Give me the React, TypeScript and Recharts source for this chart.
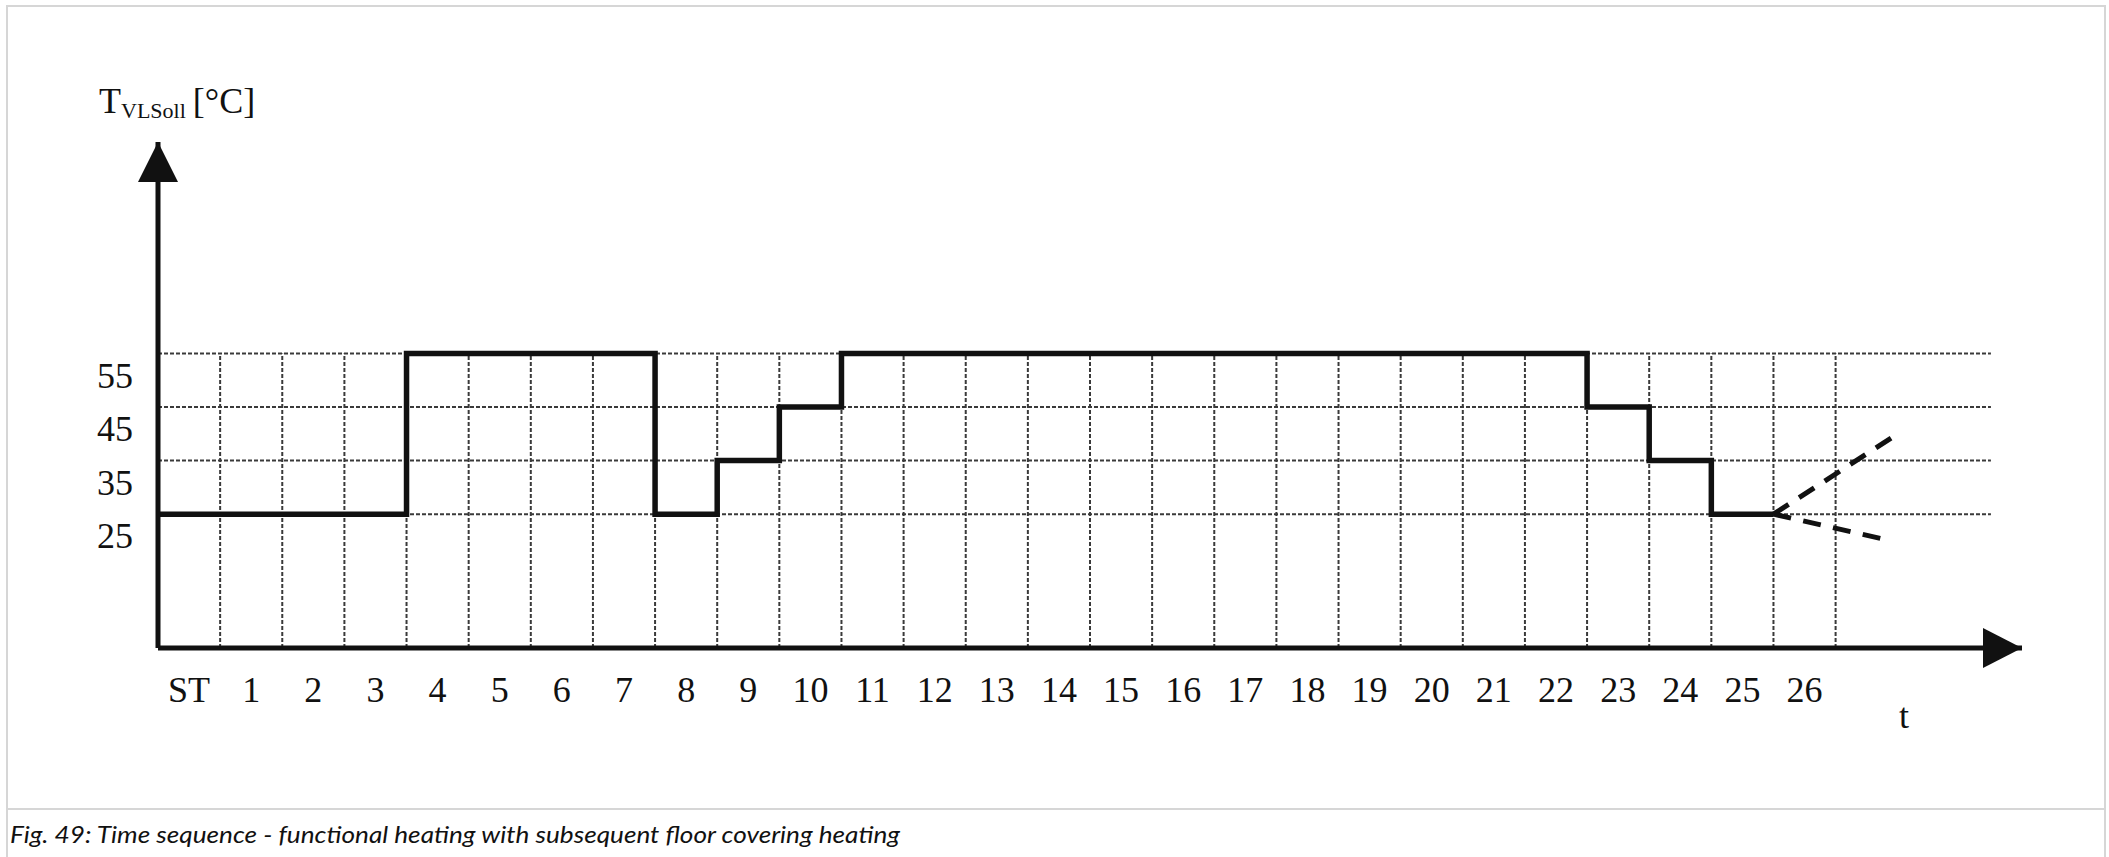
import {
  LineChart,
  Line,
  XAxis,
  YAxis,
  ReferenceLine,
  ReferenceDot,
} from "recharts";

// time periods (ST = start), labels sit in the middle of each period
const periods = [
  "ST", "1", "2", "3", "4", "5", "6", "7", "8", "9", "10", "11", "12", "13",
  "14", "15", "16", "17", "18", "19", "20", "21", "22", "23", "24", "25", "26",
];

// flow temperature setpoint per period, ST .. 25
const setpoint = [
  25, 25, 25, 25, 55, 55, 55, 55, 25, 35, 45, 55, 55, 55, 55, 55, 55, 55, 55,
  55, 55, 55, 55, 45, 35, 25,
];

// optional continuation after period 25 (dashed)
const riseT = [26, 28];
const riseV = [25, 40];
const fallT = [26, 27.9];
const fallV = [25, 20];

const tempTicks = [25, 35, 45, 55];

const caption =
  "Fig. 49: Time sequence - functional heating with subsequent floor covering heating";

const INK = "#111";
const GRID = "#3a3a3a";
const SERIF = "'Liberation Serif', 'Times New Roman', serif";

const stepData = [
  ...setpoint.map((v, i) => ({ t: i, v })),
  { t: setpoint.length, v: setpoint[setpoint.length - 1] },
];
const riseData = riseT.map((t, i) => ({ t, v: riseV[i] }));
const fallData = fallT.map((t, i) => ({ t, v: fallV[i] }));

const XTick = ({ x, y, payload }: any) => (
  <text
    x={x}
    y={y + 54}
    textAnchor="middle"
    fontFamily={SERIF}
    fontSize={36}
    fill={INK}
  >
    {periods[Math.floor(payload.value)]}
  </text>
);

const YTick = ({ x, y, payload }: any) => (
  <text
    x={x - 25}
    y={y + 34}
    textAnchor="end"
    fontFamily={SERIF}
    fontSize={36}
    fill={INK}
  >
    {payload.value}
  </text>
);

const YArrow = ({ cx, cy }: any) => (
  <g>
    <polygon
      points={`${cx},${cy} ${cx - 20},${cy + 40} ${cx + 20},${cy + 40}`}
      fill={INK}
    />
    <text x={cx - 59} y={cy - 29} fontFamily={SERIF} fontSize={36} fill={INK}>
      T
      <tspan fontSize={22} dy={5}>
        VLSoll
      </tspan>
      <tspan dx={7} dy={-5}>
        [°C]
      </tspan>
    </text>
  </g>
);

const XArrow = ({ cx, cy }: any) => (
  <polygon
    points={`${cx},${cy} ${cx - 39},${cy - 20} ${cx - 39},${cy + 20}`}
    fill={INK}
  />
);

const TLabel = ({ cx, cy }: any) => (
  <text
    x={cx}
    y={cy + 80}
    textAnchor="middle"
    fontFamily={SERIF}
    fontSize={36}
    fill={INK}
  >
    t
  </text>
);

export default function App() {
  const xTicks = periods.map((_, i) => i + 0.5);
  const gridEnd = 29.5;

  return (
    <div
      style={{
        position: "absolute",
        left: 0,
        top: 0,
        width: 2109,
        height: 857,
        background: "#fff",
        overflow: "hidden",
      }}
    >
      <div
        style={{
          position: "absolute",
          left: 6,
          top: 5,
          width: 2096,
          height: 860,
          border: "2px solid #d6d6d6",
        }}
      />
      <div
        style={{
          position: "absolute",
          left: 6,
          top: 808,
          width: 2100,
          height: 2,
          background: "#d6d6d6",
        }}
      />
      <svg
        width={2109}
        height={50}
        style={{ position: "absolute", left: 0, top: 807 }}
      >
        <text
          x={10}
          y={36}
          fontFamily="Lato, 'Open Sans', sans-serif"
          fontStyle="italic"
          fontSize={24}
          fill={INK}
          textLength={890}
          lengthAdjust="spacingAndGlyphs"
        >
          {caption}
        </text>
      </svg>

      <div style={{ position: "absolute", left: 0, top: 0 }}>
        <LineChart
          width={2109}
          height={800}
          margin={{ top: 142, right: 87, bottom: 92, left: 58 }}
        >
          <XAxis
            type="number"
            dataKey="t"
            domain={[0, 30]}
            ticks={xTicks}
            interval={0}
            allowDataOverflow
            height={60}
            tickSize={0}
            tickMargin={0}
            tickLine={false}
            axisLine={{ stroke: INK, strokeWidth: 5 }}
            tick={<XTick />}
          />
          <YAxis
            type="number"
            domain={[0, 94.5]}
            ticks={tempTicks}
            allowDataOverflow
            width={100}
            tickSize={0}
            tickMargin={0}
            tickLine={false}
            axisLine={{ stroke: INK, strokeWidth: 5 }}
            tick={<YTick />}
          />

          {tempTicks.map((v) => (
            <ReferenceLine
              key={`h${v}`}
              segment={[
                { x: 0, y: v },
                { x: gridEnd, y: v },
              ]}
              stroke={GRID}
              strokeWidth={2}
              strokeDasharray="4 2"
            />
          ))}
          {periods.map((_, i) => (
            <ReferenceLine
              key={`v${i}`}
              segment={[
                { x: i + 1, y: 0 },
                { x: i + 1, y: tempTicks[tempTicks.length - 1] },
              ]}
              stroke={GRID}
              strokeWidth={2}
              strokeDasharray="4 2"
            />
          ))}

          <Line
            data={stepData}
            dataKey="v"
            type="stepAfter"
            stroke={INK}
            strokeWidth={5.5}
            strokeLinejoin="miter"
            dot={false}
            activeDot={false}
            isAnimationActive={false}
          />
          <Line
            data={riseData}
            dataKey="v"
            type="linear"
            stroke={INK}
            strokeWidth={5}
            strokeDasharray="18 12.5"
            dot={false}
            activeDot={false}
            isAnimationActive={false}
          />
          <Line
            data={fallData}
            dataKey="v"
            type="linear"
            stroke={INK}
            strokeWidth={5}
            strokeDasharray="18 12.5"
            dot={false}
            activeDot={false}
            isAnimationActive={false}
          />

          <ReferenceDot x={0} y={94.5} r={0} shape={<YArrow />} />
          <ReferenceDot x={30} y={0} r={0} shape={<XArrow />} />
          <ReferenceDot x={28.1} y={0} r={0} shape={<TLabel />} />
        </LineChart>
      </div>
    </div>
  );
}
